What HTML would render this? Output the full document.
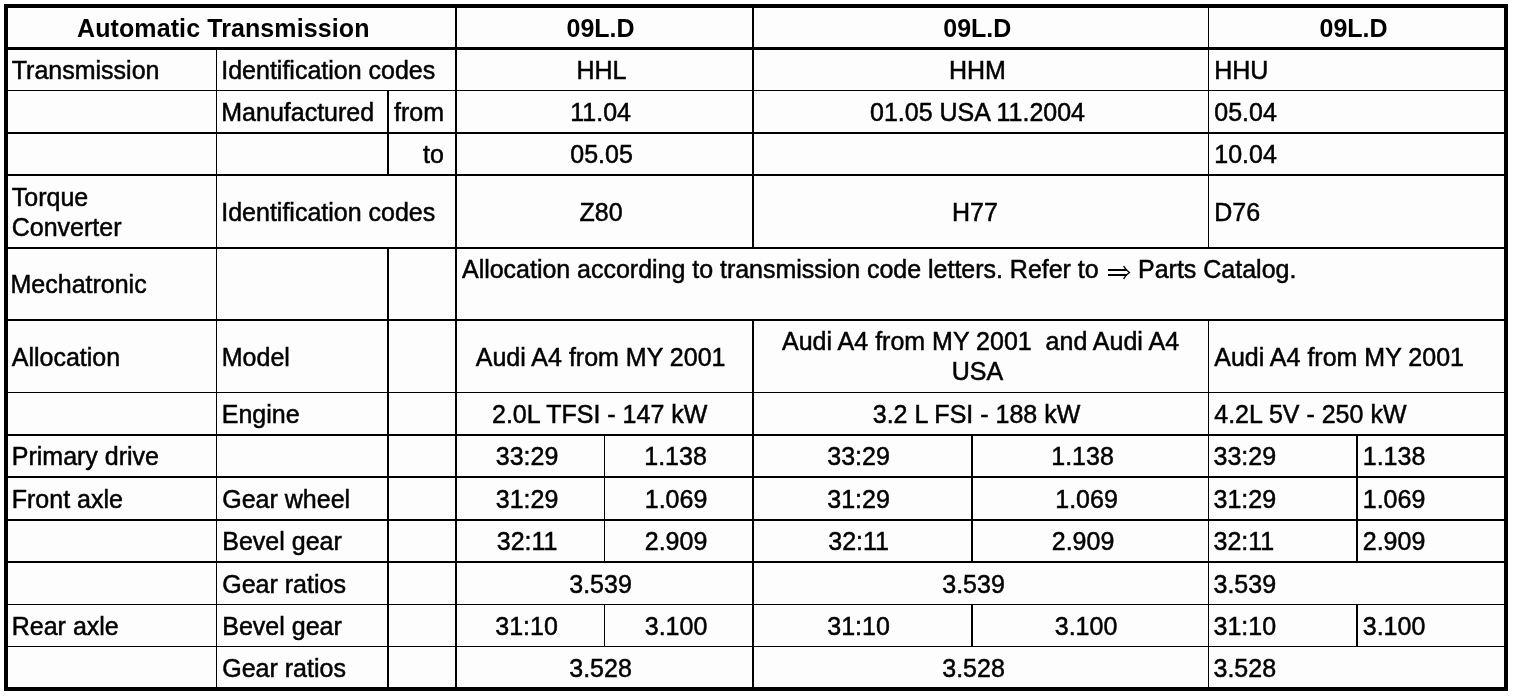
<!DOCTYPE html>
<html lang="en">
<head>
<meta charset="utf-8">
<title>Automatic Transmission 09L.D</title>
<style>
html,body{margin:0;padding:0;background:#fff;}
body{width:1520px;height:696px;position:relative;overflow:hidden;font-family:"Liberation Sans",sans-serif;font-size:25px;line-height:30px;color:#000;}
#tbl{position:absolute;left:4px;top:4px;width:1504px;height:687px;background:#fdfdfd;}
.h,.v{position:absolute;background:#000;}
#txt{position:absolute;left:0;top:0;width:1520px;height:696px;will-change:transform;}
.t{position:absolute;white-space:pre;height:30px;-webkit-text-stroke:0.5px #000;}
.c{text-align:center;width:600px;}
.b{font-weight:bold;-webkit-text-stroke:0;}
</style>
</head>
<body>
<div id="tbl"></div>
<div class="h" style="left:4px;top:4px;width:1504px;height:4px"></div>
<div class="h" style="left:8px;top:47px;width:1496px;height:3px"></div>
<div class="h" style="left:8px;top:90px;width:1496px;height:1px"></div>
<div class="h" style="left:8px;top:132px;width:1496px;height:2px"></div>
<div class="h" style="left:8px;top:174px;width:1496px;height:2px"></div>
<div class="h" style="left:8px;top:247px;width:1496px;height:2px"></div>
<div class="h" style="left:8px;top:319px;width:1496px;height:2px"></div>
<div class="h" style="left:8px;top:392px;width:1496px;height:1px"></div>
<div class="h" style="left:8px;top:434px;width:1496px;height:2px"></div>
<div class="h" style="left:8px;top:476px;width:1496px;height:2px"></div>
<div class="h" style="left:8px;top:519px;width:1496px;height:2px"></div>
<div class="h" style="left:8px;top:561px;width:1496px;height:2px"></div>
<div class="h" style="left:8px;top:604px;width:1496px;height:1px"></div>
<div class="h" style="left:8px;top:646px;width:1496px;height:1px"></div>
<div class="h" style="left:4px;top:687px;width:1504px;height:4px"></div>
<div class="v" style="left:4px;top:4px;width:4px;height:687px"></div>
<div class="v" style="left:1504px;top:4px;width:4px;height:687px"></div>
<div class="v" style="left:216px;top:50px;width:1px;height:637px"></div>
<div class="v" style="left:387px;top:91px;width:2px;height:83px"></div>
<div class="v" style="left:387px;top:249px;width:2px;height:438px"></div>
<div class="v" style="left:455px;top:8px;width:2px;height:679px"></div>
<div class="v" style="left:604px;top:436px;width:1px;height:125px"></div>
<div class="v" style="left:604px;top:605px;width:1px;height:41px"></div>
<div class="v" style="left:752px;top:8px;width:2px;height:239px"></div>
<div class="v" style="left:752px;top:321px;width:2px;height:366px"></div>
<div class="v" style="left:971px;top:436px;width:2px;height:125px"></div>
<div class="v" style="left:971px;top:605px;width:2px;height:41px"></div>
<div class="v" style="left:1208px;top:8px;width:1px;height:239px"></div>
<div class="v" style="left:1208px;top:321px;width:1px;height:366px"></div>
<div class="v" style="left:1356px;top:436px;width:2px;height:125px"></div>
<div class="v" style="left:1356px;top:605px;width:2px;height:41px"></div>
<div id="txt">
<div class="t b" style="left:77px;top:13px;letter-spacing:0.1px">Automatic Transmission</div>
<div class="t b" style="left:566.5px;top:13px">09L.D</div>
<div class="t b" style="left:943.25px;top:13px">09L.D</div>
<div class="t b" style="left:1319.5px;top:13px">09L.D</div>
<div class="t" style="left:11.75px;top:55px">Transmission</div>
<div class="t" style="left:221.25px;top:55px">Identification codes</div>
<div class="t" style="left:576.5px;top:55px">HHL</div>
<div class="t" style="left:949px;top:55px">HHM</div>
<div class="t" style="left:1214.25px;top:55px">HHU</div>
<div class="t" style="left:221.25px;top:97px">Manufactured</div>
<div class="t" style="left:394px;top:97px">from</div>
<div class="t" style="left:570.25px;top:97px">11.04</div>
<div class="t" style="left:870px;top:97px">01.05 USA 11.2004</div>
<div class="t" style="left:1214.25px;top:97px">05.04</div>
<div class="t" style="left:423px;top:139px">to</div>
<div class="t" style="left:570.25px;top:139px">05.05</div>
<div class="t" style="left:1214.25px;top:139px">10.04</div>
<div class="t" style="left:11.75px;top:182px">Torque</div>
<div class="t" style="left:11.75px;top:212px">Converter</div>
<div class="t" style="left:221.25px;top:197px">Identification codes</div>
<div class="t" style="left:579.5px;top:197px">Z80</div>
<div class="t" style="left:952px;top:197px">H77</div>
<div class="t" style="left:1214.25px;top:197px">D76</div>
<div class="t" style="left:10.5px;top:269px">Mechatronic</div>
<div class="t" style="left:462px;top:254px;letter-spacing:-0.02px">Allocation according to transmission code letters. Refer to</div>
<div class="t" style="left:1138px;top:254px">Parts Catalog.</div>
<div class="t" style="left:11.75px;top:342px">Allocation</div>
<div class="t" style="left:221.75px;top:342px">Model</div>
<div class="t" style="left:475.75px;top:342px">Audi A4 from MY 2001</div>
<div class="t" style="left:782px;top:326px">Audi A4 from MY 2001  and Audi A4</div>
<div class="t" style="left:951.75px;top:356px">USA</div>
<div class="t" style="left:1214.25px;top:342px">Audi A4 from MY 2001</div>
<div class="t" style="left:221.75px;top:399px">Engine</div>
<div class="t" style="left:492px;top:399px">2.0L TFSI - 147 kW</div>
<div class="t" style="left:872.75px;top:399px">3.2 L FSI - 188 kW</div>
<div class="t" style="left:1214.25px;top:399px">4.2L 5V - 250 kW</div>
<div class="t" style="left:11.75px;top:441px">Primary drive</div>
<div class="t" style="left:495.75px;top:441px">33:29</div>
<div class="t" style="left:644.25px;top:441px">1.138</div>
<div class="t" style="left:827.25px;top:441px">33:29</div>
<div class="t" style="left:1051.25px;top:441px">1.138</div>
<div class="t" style="left:1213.5px;top:441px">33:29</div>
<div class="t" style="left:1362.75px;top:441px">1.138</div>
<div class="t" style="left:11.75px;top:484px">Front axle</div>
<div class="t" style="left:222.25px;top:484px">Gear wheel</div>
<div class="t" style="left:495.75px;top:484px">31:29</div>
<div class="t" style="left:644.75px;top:484px">1.069</div>
<div class="t" style="left:827.25px;top:484px">31:29</div>
<div class="t" style="left:1055.25px;top:484px">1.069</div>
<div class="t" style="left:1213.5px;top:484px">31:29</div>
<div class="t" style="left:1362.75px;top:484px">1.069</div>
<div class="t" style="left:222.25px;top:526px">Bevel gear</div>
<div class="t" style="left:496.75px;top:526px">32:11</div>
<div class="t" style="left:644.75px;top:526px">2.909</div>
<div class="t" style="left:828.25px;top:526px">32:11</div>
<div class="t" style="left:1051.75px;top:526px">2.909</div>
<div class="t" style="left:1213.5px;top:526px">32:11</div>
<div class="t" style="left:1362.75px;top:526px">2.909</div>
<div class="t" style="left:222.25px;top:569px">Gear ratios</div>
<div class="t" style="left:569.25px;top:569px">3.539</div>
<div class="t" style="left:942.25px;top:569px">3.539</div>
<div class="t" style="left:1213.5px;top:569px">3.539</div>
<div class="t" style="left:11.75px;top:611px">Rear axle</div>
<div class="t" style="left:222.25px;top:611px">Bevel gear</div>
<div class="t" style="left:495.25px;top:611px">31:10</div>
<div class="t" style="left:644.75px;top:611px">3.100</div>
<div class="t" style="left:827.25px;top:611px">31:10</div>
<div class="t" style="left:1054.75px;top:611px">3.100</div>
<div class="t" style="left:1213.5px;top:611px">31:10</div>
<div class="t" style="left:1362.75px;top:611px">3.100</div>
<div class="t" style="left:222.25px;top:653px">Gear ratios</div>
<div class="t" style="left:569.25px;top:653px">3.528</div>
<div class="t" style="left:942.25px;top:653px">3.528</div>
<div class="t" style="left:1213.5px;top:653px">3.528</div>
</div>
<svg id="arrow" style="position:absolute;left:1104px;top:262px" width="30" height="22" viewBox="1104 262 30 22">
<rect x="1108" y="269" width="19" height="2" fill="#000"/>
<rect x="1108" y="274" width="19" height="2" fill="#000"/>
<path d="M1123.6,266.2 Q1125.6,269.8 1129.4,272.5 Q1125.6,275.2 1123.6,278.8" fill="none" stroke="#000" stroke-width="1.4" stroke-linejoin="miter"/>
</svg>
</body>
</html>
